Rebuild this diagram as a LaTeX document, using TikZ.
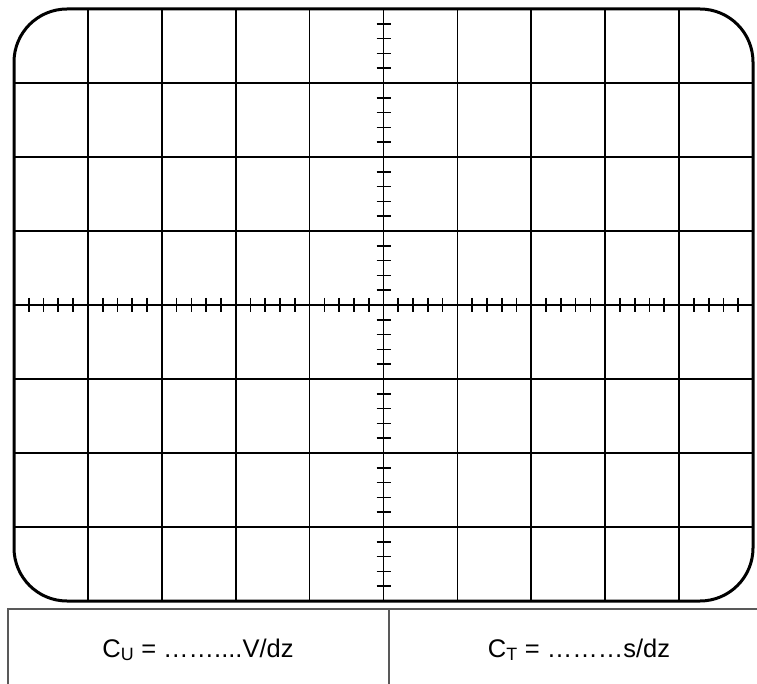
\documentclass[tikz,border=0pt]{standalone}
\usepackage{fontspec}
\setmainfont{Liberation Sans}
\usepackage{xcolor}
\tikzset{screen/.style={draw, line width=3pt, rounded corners=53pt}}
\tikzset{grid line/.style={draw, line width=1.7pt}}
\tikzset{scale tick/.style={draw, line width=1.7pt}}
\tikzset{table line/.style={draw=black!65, line width=1.5pt}}
\tikzset{label text/.style={inner sep=0, anchor=base, font=\fontsize{25.5}{30}\selectfont}}

\begin{document}
\begin{tikzpicture}[x=1pt, y=-1pt]
  \useasboundingbox (0,0) rectangle (757,684);
  \coordinate (tl) at (14,9);
  \coordinate (br) at (753,601);

  % divisions
  \foreach \i in {1,...,9} \draw[grid line] (14+73.9*\i,9) -- (14+73.9*\i,601);
  \foreach \j in {1,...,7} \draw[grid line] (14,9+74*\j) -- (753,9+74*\j);

  % sub-divisions on the axes
  \foreach \j in {0,...,7} \foreach \m in {1,...,4}
    \draw[scale tick] (376.5,9+74*\j+14.8*\m) -- ++(14,0);
  \foreach \i in {0,...,9} \foreach \m in {1,...,4}
    \draw[scale tick] (14+73.9*\i+14.78*\m,298) -- ++(0,14);

  \draw[screen] (tl) rectangle (br);

  % calibration table
  \coordinate (t1) at (8,609);
  \coordinate (t2) at (757,609);
  \coordinate (m1) at (389,609);
  \draw[table line] (8,684) -- (t1) -- (t2);
  \draw[table line] (m1) -- (389,684);

  \node[label text] (cu) at (198,657) {C\textsubscript{U} = ……....V/dz};
  \node[label text] (ct) at (579,657) {C\textsubscript{T} = ………s/dz};
\end{tikzpicture}
\end{document}
